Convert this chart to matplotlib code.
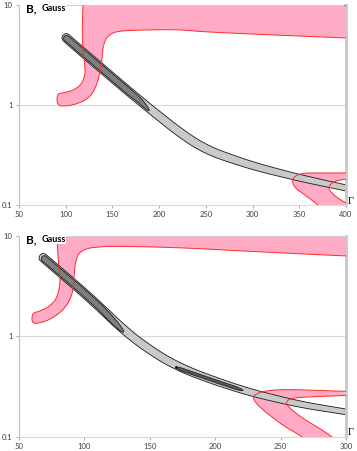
import numpy as np
import matplotlib
matplotlib.use('Agg')
import matplotlib.pyplot as plt
from matplotlib.patches import Polygon, Rectangle

# ---- panel 1 (Gamma 50..400) ----
p1_xticks = [50, 100, 150, 200, 250, 300, 350, 400]

# pink region, upper left (L-shaped band)
p1_pinkA_x = [118.5, 118.5, 117.5, 118.5, 120.7, 120.7, 116.4, 106.7, 96.0, 90.7,
              90.7, 102.5, 115.3, 126.0, 132.4, 136.7, 138.9, 139.9, 143.1, 149.6,
              158.1, 179.5, 222.4, 247.0, 399.0, 410.0, 410.0]
p1_pinkA_b = [13.0, 10.0, 5.25, 3.55, 2.40, 2.00, 1.58, 1.38, 1.32, 1.29,
              0.977, 0.977, 1.05, 1.20, 1.51, 2.09, 2.95, 3.80, 4.68, 5.25,
              5.50, 5.62, 5.69, 5.37, 4.68, 4.65, 13.0]

# pink region, lower right ("<" shaped band)
p1_pinkB_x = [400.1, 372.3, 354.1, 345.5, 342.3, 344.4, 353.0, 361.6, 370.1, 376.6,
              415.0, 406.5, 400.1, 395.8, 388.3, 381.9, 381.9, 388.3, 400.1, 415.0, 415.0]
p1_pinkB_b = [0.209, 0.209, 0.209, 0.195, 0.178, 0.151, 0.132, 0.115, 0.100, 0.085,
              0.085, 0.093, 0.105, 0.110, 0.123, 0.141, 0.158, 0.174, 0.182, 0.182, 0.209]

# grey confidence band (centre line)
p1_band_x = [97.1, 115.3, 136.7, 158.1, 179.5, 201.0, 222.4, 250.2, 300.5, 350.9, 400.1]
p1_band_b = [5.01, 3.55, 2.40, 1.62, 1.10, 0.759, 0.525, 0.355, 0.245, 0.186, 0.148]
p1_band_hw = [4.2, 4.3, 4.3, 4.3, 4.2, 4.2, 4.3, 4.3, 3.8, 3.3, 3.0]

# dark inner region
p1_core_x = [98.5, 115.3, 136.7, 158.1, 179.5, 189.2]
p1_core_b = [4.85, 3.55, 2.40, 1.62, 1.10, 0.88]

# ---- panel 2 (Gamma 50..300) ----
p2_xticks = [50, 100, 150, 200, 250, 300]

p2_pinkA_x = [79.05, 79.05, 79.8, 81.3, 81.3, 79.05, 73.7, 66.1, 59.9, 59.9,
              68.3, 75.2, 82.9, 88.2, 91.3, 92.0, 92.8, 94.3, 96.6, 102.8,
              111.9, 118.0, 173.1, 228.9, 300.0, 310.0, 310.0]
p2_pinkA_b = [13.0, 10.0, 6.03, 4.07, 3.24, 2.40, 2.00, 1.78, 1.70, 1.32,
              1.38, 1.51, 1.78, 2.19, 2.82, 3.80, 5.13, 6.17, 6.92, 7.59,
              7.76, 7.94, 7.67, 7.00, 6.31, 6.30, 13.0]

p2_pinkB_x = [300.0, 280.1, 254.9, 239.6, 232.0, 228.9, 229.7, 234.3, 241.9, 251.8,
              262.5, 267.1, 272.5, 310.0, 295.4, 290.1, 280.1, 267.1, 257.2, 254.1,
              255.7, 262.5, 280.1, 300.0, 310.0, 310.0]
p2_pinkB_b = [0.282, 0.288, 0.295, 0.288, 0.269, 0.251, 0.229, 0.195, 0.162, 0.129,
              0.107, 0.098, 0.080, 0.080, 0.080, 0.098, 0.120, 0.151, 0.191, 0.214,
              0.234, 0.245, 0.251, 0.257, 0.257, 0.282]

p2_band_x = [66.1, 81.3, 96.6, 111.9, 131.0, 150.2, 170.8, 196.0, 226.6, 264.8, 300.0]
p2_band_b = [6.46, 4.37, 2.95, 1.95, 1.12, 0.724, 0.50, 0.372, 0.275, 0.209, 0.176]
p2_band_hw = [4.2, 4.3, 4.3, 4.3, 4.2, 4.1, 4.0, 3.8, 3.5, 3.1, 2.8]

p2_core_x = [67.6, 81.3, 96.6, 111.9, 130.0]
p2_core_b = [6.2, 4.37, 2.95, 1.95, 1.10]

p2_streak_x = [171.6, 196.0, 221.3]
p2_streak_b = [0.479, 0.372, 0.288]

p2_dot_x = [170.0]
p2_dot_b = [0.49]

PINK = '#ffabc6'
RED = '#ff2a2a'
LIGHT = '#c9c9c9'
DARK = '#7f7f7f'


def smooth(v, k):
    pad = np.pad(v, k, mode='reflect', reflect_type='odd')
    return np.convolve(pad, np.ones(k) / k, mode='same')[k:-k]


def band_poly(ax, xs, bs, hw, cap_start, cap_end, n=400, k=45):
    pts = ax.transData.transform(np.column_stack([xs, bs]))
    seg = np.hypot(np.diff(pts[:, 0]), np.diff(pts[:, 1]))
    s = np.concatenate([[0], np.cumsum(seg)])
    t = np.linspace(0, s[-1], n)
    px = smooth(np.interp(t, s, pts[:, 0]), k)
    py = smooth(np.interp(t, s, pts[:, 1]), k)
    w = np.interp(t, s, np.broadcast_to(np.asarray(hw, float), s.shape))
    w = np.convolve(np.pad(w, k, mode='edge'), np.ones(k) / k, mode='same')[k:-k]
    dx = smooth(np.gradient(px), 9)
    dy = smooth(np.gradient(py), 9)
    ln = np.hypot(dx, dy)
    nx, ny = -dy / ln, dx / ln
    seg2 = np.hypot(np.diff(px), np.diff(py))
    t = np.concatenate([[0], np.cumsum(seg2)])
    if cap_start > 0:
        d = np.clip(t / cap_start, 0, 1)
        w = w * np.sqrt(1 - (1 - d) ** 2)
    if cap_end > 0:
        d = np.clip((t[-1] - t) / cap_end, 0, 1)
        w = w * np.sqrt(1 - (1 - d) ** 2)
    up = np.column_stack([px + nx * w, py + ny * w])
    lo = np.column_stack([px - nx * w, py - ny * w])
    poly = np.vstack([up, lo[::-1]])
    return ax.transData.inverted().transform(poly)


def chaikin(ax, xs, bs, rounds=3):
    # corner cutting in screen space so the outline reads as a smooth contour
    p = ax.transData.transform(np.column_stack([xs, bs]))
    for _ in range(rounds):
        q = np.roll(p, -1, axis=0)
        p = np.column_stack([0.75 * p + 0.25 * q, 0.25 * p + 0.75 * q]).reshape(-1, 2)
    return ax.transData.inverted().transform(p)


def setup(ax, xmax, xticks):
    ax.set_yscale('log')
    ax.set_xlim(50, xmax)
    ax.set_ylim(0.1, 10)
    ax.set_xticks(xticks)
    ax.set_xticklabels([str(v) for v in xticks])
    ax.set_yticks([0.1, 1, 10])
    ax.set_yticklabels(['0.1', '1', '10'])
    ax.minorticks_off()
    ax.yaxis.grid(True, color='#d9d9d9', lw=0.8)
    ax.set_axisbelow(True)
    ax.tick_params(axis='both', labelsize=5.5, colors='#9a9a9a', labelcolor='#404040',
                   length=2.5, width=0.6, pad=2)
    for lab in ax.get_xticklabels() + ax.get_yticklabels():
        lab.set_family('Lato')
    ax.spines['left'].set_color('#bfbfbf')
    ax.spines['left'].set_linewidth(0.8)
    ax.spines['bottom'].set_color('#d9d9d9')
    ax.spines['bottom'].set_linewidth(0.8)
    ax.spines['top'].set_color('#d0d0d0')
    ax.spines['top'].set_linewidth(0.8)
    ax.spines['right'].set_color('#c8c8c8')
    ax.spines['right'].set_linewidth(2.0)


def draw_pink(ax, xs, bs):
    xy = chaikin(ax, xs, bs)
    ax.add_patch(Polygon(xy, closed=True, facecolor=PINK, edgecolor='none', zorder=1))
    ax.add_patch(Polygon(xy, closed=True, fill=False, edgecolor=RED, lw=0.7, zorder=5))


def labels(ax):
    ax.add_patch(Rectangle((0.003, 0.958), 0.142, 0.075, transform=ax.transAxes,
                           facecolor='white', edgecolor='none', clip_on=False, zorder=6))
    ax.text(0.021, 0.983, 'B,', transform=ax.transAxes, fontsize=8.5, fontweight='bold',
            family='Lato', va='center', ha='left', zorder=7, clip_on=False)
    ax.text(0.068, 0.983, 'Gauss', transform=ax.transAxes, fontsize=6.5, fontweight='bold',
            family='Lato', va='center', ha='left', zorder=7, clip_on=False)
    ax.text(1.016, 0.02, '\u0393', transform=ax.transAxes, fontsize=7.5,
            family='Liberation Serif', va='center', ha='center', zorder=7, clip_on=False)


fig = plt.figure(figsize=(3.57, 4.51), dpi=100)
ax1 = fig.add_axes([19 / 357, 1 - 205 / 451, 327 / 357, 200 / 451])
ax2 = fig.add_axes([19 / 357, 1 - 436.5 / 451, 327 / 357, 200.5 / 451])

setup(ax1, 400, p1_xticks)
setup(ax2, 300, p2_xticks)

# panel 1
draw_pink(ax1, p1_pinkA_x, p1_pinkA_b)
draw_pink(ax1, p1_pinkB_x, p1_pinkB_b)
ax1.add_patch(Polygon(band_poly(ax1, p1_band_x, p1_band_b, p1_band_hw, 4.2, 0),
                      facecolor=LIGHT, edgecolor='#1a1a1a', lw=0.6, zorder=2))
ax1.add_patch(Polygon(band_poly(ax1, p1_core_x, p1_core_b, 3.0, 3.0, 30, k=15),
                      facecolor=DARK, edgecolor='#1a1a1a', lw=0.6, zorder=3))
labels(ax1)

# panel 2
draw_pink(ax2, p2_pinkA_x, p2_pinkA_b)
draw_pink(ax2, p2_pinkB_x, p2_pinkB_b)
ax2.add_patch(Polygon(band_poly(ax2, p2_band_x, p2_band_b, p2_band_hw, 4.2, 0),
                      facecolor=LIGHT, edgecolor='#1a1a1a', lw=0.6, zorder=2))
ax2.add_patch(Polygon(band_poly(ax2, p2_core_x, p2_core_b, 3.0, 3.0, 25, k=15),
                      facecolor=DARK, edgecolor='#1a1a1a', lw=0.6, zorder=3))
ax2.add_patch(Polygon(band_poly(ax2, p2_streak_x, p2_streak_b, 1.5, 1.5, 12, k=15),
                      facecolor='#555555', edgecolor='#1a1a1a', lw=0.5, zorder=3))
ax2.plot(p2_dot_x, p2_dot_b, 'o', color='#1a1a1a', ms=1.2, zorder=4)
labels(ax2)

fig.savefig('out.png', dpi=100)
